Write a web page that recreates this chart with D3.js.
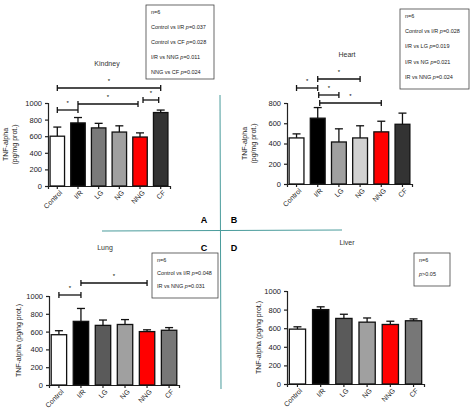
<!DOCTYPE html><html><head><script src="https://d3js.org/d3.v7.min.js"></script>
<style>body{margin:0;background:#fff}text{font-family:Arial,"Liberation Sans",sans-serif}</style></head><body>
<svg id="c" width="474" height="414"></svg>
<script>
const categories=["Control","I/R","LG","NG","NNG","CF"];
const kidneyValues=[600,760,700,650,590,885];
const kidneyErr=[710,825,755,725,640,915];
const heartValues=[455,650,415,455,515,590];
const heartErr=[495,755,545,575,620,700];
const lungValues=[565,715,670,680,600,615];
const lungErr=[610,860,730,735,620,645];
const liverValues=[590,800,705,665,640,680];
const liverErr=[615,830,750,710,675,700];
const ticks1000=[0,200,400,600,800,1000];
const ticks800=[0,200,400,600,800];
const kidneyLegend=["n=6","Control vs I/R p=0.037","Control vs CF p=0.028","I/R vs NNG p=0.011","NNG vs CF p=0.024"];
const heartLegend=["n=6","Control vs I/R p=0.028","I/R vs LG p=0.019","I/R vs NG p=0.021","IR vs NNG p=0.024"];
const lungLegend=["n=6","Control vs I/R p=0.048","IR vs NNG p=0.031"];
const liverLegend=["n=6","p>0.05"];
const svg=d3.select("#c");
function legendLine(g,t,x,y){
  const tx=g.append("text").attr("x",x).attr("y",y).attr("font-size",5.5).attr("fill","#222");
  const m=t.match(/^(.*)p([=>].*)$/);
  if(m){tx.append("tspan").text(m[1]);tx.append("tspan").attr("font-style","italic").text("p");tx.append("tspan").text(m[2]);}
  else tx.text(t);
}
function panel(o){
  const y=d3.scaleLinear().domain([0,o.max]).range([o.y0,o.y1]);
  const x=d3.scaleBand().domain(categories).range([o.x0,o.x1]).paddingInner(0.3).paddingOuter(0.1);
  const g=svg.append("g");
  g.append("g").attr("transform",`translate(${o.x0},0)`).call(d3.axisLeft(y).tickValues(o.ticks).tickSize(3).tickFormat(d3.format("d")))
   .call(a=>{a.selectAll("text").attr("font-size",7.5).attr("fill","#222");a.selectAll("path,line").attr("stroke","#222").attr("stroke-width",1.2);});
  g.append("g").attr("transform",`translate(0,${o.y0})`).call(d3.axisBottom(x).tickSize(3))
   .call(a=>{a.selectAll("path,line").attr("stroke","#222").attr("stroke-width",1.2);
     a.selectAll("text").attr("font-size",7).attr("fill","#222").attr("text-anchor","end").attr("dx","-0.2em").attr("dy","0.4em").attr("transform","rotate(-45)");});
  categories.forEach((c,i)=>{
    const cx=x(c)+x.bandwidth()/2;
    g.append("line").attr("x1",cx).attr("x2",cx).attr("y1",y(o.vals[i])).attr("y2",y(o.err[i])).attr("stroke","#111").attr("stroke-width",1.3);
    g.append("line").attr("x1",cx-4).attr("x2",cx+4).attr("y1",y(o.err[i])).attr("y2",y(o.err[i])).attr("stroke","#111").attr("stroke-width",1.3);
    g.append("rect").attr("x",x(c)).attr("width",x.bandwidth()).attr("y",y(o.vals[i])).attr("height",o.y0-y(o.vals[i]))
     .attr("fill",o.colors[i]).attr("stroke","#111").attr("stroke-width",1.3);
  });
  g.append("text").attr("x",o.tx).attr("y",o.ty).attr("text-anchor","middle").attr("font-size",7).attr("fill","#333").text(o.title);
  const lab=g.append("text").attr("transform",`translate(${o.lx},${(o.y0+o.y1)/2}) rotate(-90)`).attr("text-anchor","middle").attr("font-size",7).attr("fill","#222");
  if(o.label2){lab.append("tspan").attr("x",0).attr("dy",-4).text(o.label);lab.append("tspan").attr("x",0).attr("dy",8.5).text(o.label2);}else lab.text(o.label);
  (o.br||[]).forEach(b=>{
    const xa=x(categories[b[0]])+x.bandwidth()/2+(b[3]||0), xb=x(categories[b[1]])+x.bandwidth()/2+(b[4]||0), yy=b[2];
    g.append("line").attr("x1",xa).attr("x2",xb).attr("y1",yy).attr("y2",yy).attr("stroke","#111").attr("stroke-width",1.3);
    [xa,xb].forEach(xx=>g.append("line").attr("x1",xx).attr("x2",xx).attr("y1",yy-3).attr("y2",yy+3).attr("stroke","#111").attr("stroke-width",1.3));
    g.append("text").attr("x",(xa+xb)/2).attr("y",yy-5).attr("text-anchor","middle").attr("font-size",6).text("*");
  });
  const L=o.leg;
  g.append("rect").attr("x",L[0]).attr("y",L[1]).attr("width",L[2]).attr("height",L[3]).attr("fill","#fff").attr("stroke","#444").attr("stroke-width",0.8);
  o.legend.forEach((t,i)=>legendLine(g,t,L[0]+5,L[1]+9+i*L[4]));
}
panel({x0:48,x1:170,y0:186,y1:103,max:1000,ticks:ticks1000,vals:kidneyValues,err:kidneyErr,
  colors:["#fff","#000","#7a7a7a","#a0a0a0","#ff0000","#333"],title:"Kindney",tx:107,ty:66,lx:12,label:"TNF-alpha",label2:"(pg/mg prot.)",
  br:[[0,5,88],[0,1,110],[1,4,104,0,-2],[4,5,100,3,-2]],leg:[146,5,68,74,15],legend:kidneyLegend});
panel({x0:287,x1:412,y0:184,y1:103,max:800,ticks:ticks800,vals:heartValues,err:heartErr,
  colors:["#fff","#000","#a0a0a0","#d2d2d2","#ff0000","#333"],title:"Heart",tx:347,ty:57,lx:251,label:"TNF-alpha",label2:"(pg/mg prot.)",
  br:[[0,1,88],[1,3,79],[1,2,95,1],[1,4,103,2]],leg:[400,9,69,80,15.2],legend:heartLegend});
panel({x0:49,x1:179,y0:385,y1:296,max:1000,ticks:ticks1000,vals:lungValues,err:lungErr,
  colors:["#fff","#000","#5a5a5a","#a0a0a0","#ff0000","#777"],title:"Lung",tx:105,ty:250,lx:21,label:"TNF-alpha (pg/ng prot.)",
  br:[[0,1,295],[1,4,283]],leg:[152,253,66,45,13],legend:lungLegend});
panel({x0:287,x1:424,y0:384,y1:291,max:1000,ticks:ticks1000,vals:liverValues,err:liverErr,
  colors:["#fff","#000","#5a5a5a","#a0a0a0","#ff0000","#777"],title:"Liver",tx:347,ty:245,lx:261,label:"TNF-alpha (pg/ng prot.)",
  br:[],leg:[414,253,36,33,14],legend:liverLegend});
svg.append("line").attr("x1",220).attr("x2",221).attr("y1",95).attr("y2",389).attr("stroke","#4a9c9c").attr("stroke-width",1);
svg.append("line").attr("x1",102).attr("x2",342).attr("y1",231).attr("y2",230).attr("stroke","#4a9c9c").attr("stroke-width",1);
[["A",204,223],["B",234,223],["C",204,251],["D",234,251]].forEach(d=>svg.append("text").attr("x",d[1]).attr("y",d[2]).attr("text-anchor","middle").attr("font-size",9).attr("font-weight","bold").text(d[0]));
</script></body></html>
